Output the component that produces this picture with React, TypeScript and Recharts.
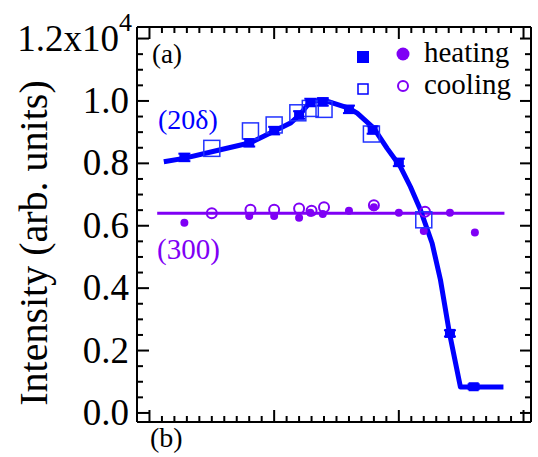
import React from 'react';
import {
  ComposedChart,
  Line,
  Scatter,
  ErrorBar,
  XAxis,
  YAxis,
  Customized,
} from 'recharts';

// x positions are in axis units (major tick every 10), intensities in arb. units
const heatX = [2.8, 8.0, 10.0, 12.0, 12.9, 13.9, 16.0, 17.9, 20.0, 24.1, 26.0];
const heat20d = [8190, 8660, 9050, 9550, 9950, 9970, 9730, 9070, 8030, 2550, 840];
const heat20dErr = [120, 120, 120, 120, 120, 120, 120, 120, 120, 100, 80];

const coolX = [5.0, 8.1, 10.0, 11.9, 12.9, 14.0, 17.8, 22.0];
const cool20d = [8480, 9040, 9230, 9620, 9760, 9730, 8940, 6190];

const heat300X = [2.8, 8.0, 10.0, 12.0, 12.9, 13.9, 16.0, 18.0, 20.0, 22.0, 24.1, 26.1];
const heat300 = [6100, 6310, 6310, 6260, 6420, 6380, 6480, 6590, 6420, 5830, 6420, 5780];

const cool300X = [5.0, 8.1, 10.0, 12.0, 13.0, 14.0, 18.0, 22.1];
const cool300 = [6400, 6510, 6510, 6550, 6480, 6590, 6660, 6450];

const fitX = [1.15, 2.75, 5.43, 8.1, 10.02, 11.31, 12.03, 12.91, 13.98, 15.98, 16.66, 17.99, 19.06, 20.13, 20.93, 21.73, 22.67, 23.34, 24.06, 24.94, 28.39];
const fitY = [8050, 8160, 8410, 8660, 9040, 9290, 9550, 9980, 10030, 9770, 9610, 9130, 8480, 7890, 7250, 6510, 5440, 4260, 2560, 830, 830];

const level300X = [0.62, 28.47];
const level300Y = [6400, 6400];

const xTicks = [0, 1, 2, 3, 4, 5, 6, 7, 8, 9, 10, 11, 12, 13, 14, 15, 16, 17, 18, 19, 20, 21, 22, 23, 24, 25, 26, 27, 28, 29, 30];
const yTicks = [0, 500, 1000, 1500, 2000, 2500, 3000, 3500, 4000, 4500, 5000, 5500, 6000, 6500, 7000, 7500, 8000, 8500, 9000, 9500, 10000, 10500, 11000, 11500, 12000];

const BLUE = '#0000ff';
const PURPLE = '#7f00f5';
const FONT = '"Liberation Serif", "Times New Roman", Times, serif';

const zip = (xs: number[], ys: number[]) => xs.map((x, i) => ({ x, y: ys[i] }));

const heatData = heatX.map((x, i) => ({ x, y: heat20d[i], err: heat20dErr[i] }));
const coolData = zip(coolX, cool20d);
const heat300Data = zip(heat300X, heat300);
const cool300Data = zip(cool300X, cool300);
const fitData = zip(fitX, fitY);
const levelData = zip(level300X, level300Y);

const isMajorX = (v: number) => Number(v) % 10 === 0;
const isMajorY = (v: number) => Number(v) % 2000 === 0;

const T = (props: any) => <text fontFamily={FONT} {...props} />;

// ticks point inward, majors longer than minors
const LeftTick = (props: any) => {
  const { x, y, payload } = props;
  const v = payload.value;
  const major = isMajorY(v);
  let label: React.ReactNode = null;
  if (major && v === 12000) {
    label = (
      <T x={x - 5} y={y + 12} textAnchor="end" fontSize={37} fill="#000">
        1.2x10<tspan dy={-20} fontSize={26}>4</tspan>
      </T>
    );
  } else if (major) {
    label = (
      <T x={x - 8} y={y + 12} textAnchor="end" fontSize={37} fill="#000">
        {(v / 10000).toFixed(1)}
      </T>
    );
  }
  return (
    <g>
      <line x1={x} x2={x + (major ? 12 : 6)} y1={y} y2={y} stroke="#000" strokeWidth={2} />
      {label}
    </g>
  );
};

const RightTick = (props: any) => {
  const { x, y, payload } = props;
  const len = isMajorY(payload.value) ? 11 : 6;
  return <line x1={x} x2={x - len} y1={y} y2={y} stroke="#000" strokeWidth={2} />;
};

const BottomTick = (props: any) => {
  const { x, y, payload } = props;
  const len = isMajorX(payload.value) ? 12 : 6;
  return <line x1={x} x2={x} y1={y} y2={y - len} stroke="#000" strokeWidth={2} />;
};

const TopTick = (props: any) => {
  const { x, y, payload } = props;
  const len = isMajorX(payload.value) ? 12 : 6;
  return <line x1={x} x2={x} y1={y} y2={y + len} stroke="#000" strokeWidth={2} />;
};

const FilledSquare = (props: any) => (
  <rect x={props.cx - 5} y={props.cy - 4.5} width={10} height={9} fill={BLUE} />
);
const OpenSquare = (props: any) => (
  <rect x={props.cx - 8} y={props.cy - 8} width={16} height={16} fill="none" stroke="#2233ff" strokeWidth={1.5} />
);
const FilledCircle = (props: any) => <circle cx={props.cx} cy={props.cy} r={4} fill={PURPLE} />;
const OpenCircle = (props: any) => (
  <circle cx={props.cx} cy={props.cy} r={5} fill="none" stroke={PURPLE} strokeWidth={2} />
);

const Annotations = () => (
  <g>
    <T x={47} y={243} transform="rotate(-90, 47, 243)" textAnchor="middle" fontSize={40} fill="#000">
      Intensity (arb. units)
    </T>
    <T x={152} y={63} fontSize={27} fill="#000">(a)</T>
    <T x={158} y={129} fontSize={28} fill={BLUE}>(20δ)</T>
    <T x={157} y={259} fontSize={29} fill={PURPLE}>(300)</T>
    <T x={150} y={447} fontSize={28} fill="#000">(b)</T>
    {/* legend */}
    <rect x={357} y={51} width={12} height={12} fill={BLUE} />
    <circle cx={403} cy={54} r={6.5} fill={PURPLE} />
    <T x={424} y={62} fontSize={29} fill="#000">heating</T>
    <rect x={358} y={84} width={10} height={10} fill="none" stroke={BLUE} strokeWidth={1.5} />
    <circle cx={403} cy={86} r={5} fill="none" stroke={PURPLE} strokeWidth={2} />
    <T x={424} y={94} fontSize={29} fill="#000">cooling</T>
  </g>
);

const axisLine = { stroke: '#000', strokeWidth: 2 };

export default function App() {
  return (
    <div style={{ position: 'absolute', left: 0, top: 0, background: '#fff' }}>
      <ComposedChart width={538} height={457} margin={{ top: 26, right: 6, bottom: 34, left: 136 }}>
        <XAxis
          dataKey="x"
          type="number"
          domain={[-1, 30.6]}
          allowDataOverflow
          ticks={xTicks}
          interval={0}
          minTickGap={0}
          height={1}
          tickSize={0}
          tickMargin={0}
          tickLine={false}
          axisLine={axisLine}
          tick={<BottomTick />}
        />
        <XAxis
          xAxisId="top"
          orientation="top"
          dataKey="x"
          type="number"
          domain={[-1, 30.6]}
          allowDataOverflow
          ticks={xTicks}
          interval={0}
          minTickGap={0}
          height={1}
          tickSize={0}
          tickMargin={0}
          tickLine={false}
          axisLine={axisLine}
          tick={<TopTick />}
        />
        <YAxis
          dataKey="y"
          type="number"
          domain={[-290, 12370]}
          allowDataOverflow
          ticks={yTicks}
          interval={0}
          minTickGap={0}
          width={1}
          tickSize={0}
          tickMargin={0}
          tickLine={false}
          axisLine={axisLine}
          tick={<LeftTick />}
        />
        <YAxis
          yAxisId="right"
          orientation="right"
          dataKey="y"
          type="number"
          domain={[-290, 12370]}
          allowDataOverflow
          ticks={yTicks}
          interval={0}
          minTickGap={0}
          width={1}
          tickSize={0}
          tickMargin={0}
          tickLine={false}
          axisLine={axisLine}
          tick={<RightTick />}
        />
        <Line data={levelData} dataKey="y" type="linear" stroke={PURPLE} strokeWidth={3} dot={false} isAnimationActive={false} />
        <Scatter data={heat300Data} dataKey="y" shape={<FilledCircle />} isAnimationActive={false} />
        <Scatter data={cool300Data} dataKey="y" shape={<OpenCircle />} isAnimationActive={false} />
        <Scatter data={coolData} dataKey="y" shape={<OpenSquare />} isAnimationActive={false} />
        <Line
          data={fitData}
          dataKey="y"
          type="linear"
          stroke={BLUE}
          strokeWidth={5}
          strokeLinejoin="round"
          dot={false}
          isAnimationActive={false}
        />
        <Scatter data={heatData} dataKey="y" shape={<FilledSquare />} isAnimationActive={false}>
          <ErrorBar dataKey="err" direction="y" width={6} stroke={BLUE} strokeWidth={2} />
        </Scatter>
        <Customized component={Annotations} />
      </ComposedChart>
    </div>
  );
}
